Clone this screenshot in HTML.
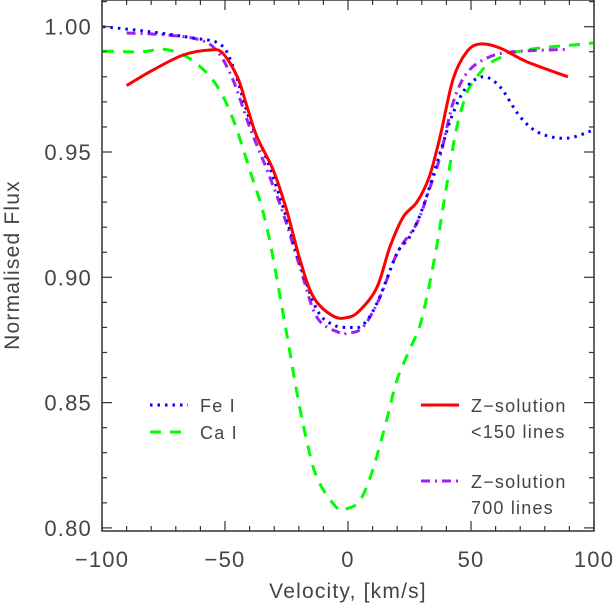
<!DOCTYPE html>
<html><head><meta charset="utf-8">
<style>
html,body{margin:0;padding:0;background:#fff;}
svg{display:block;font-family:"Liberation Sans",sans-serif;}
text{fill:#444;letter-spacing:1.2px;}
</style></head>
<body>
<svg id="chart" width="615" height="604" viewBox="0 0 615 604" xmlns="http://www.w3.org/2000/svg">
<g id="curves"></g>
<g id="axes"></g>
<g id="legend"></g>
</svg>
<script>
const redV=[-90,-79.3,-67,-56,-51,-45,-41,-37,-30.5,-25,-19.5,-14,-6,0,5,11.8,17,22.4,28,33,37.4,42.7,48.3,53.7,61.8,72.7,89.4];
const redF=[0.9765,0.9827,0.9887,0.9907,0.9895,0.980,0.968,0.956,0.943,0.927,0.907,0.892,0.8845,0.884,0.887,0.896,0.912,0.924,0.930,0.940,0.956,0.979,0.990,0.9931,0.9915,0.986,0.980];
const feV=[-99.6,-80.5,-63,-52,-46.7,-40,-33,-26.4,-19.5,-12.6,-6,0.8,6,11.8,20,25,30.5,37.4,42.7,48.3,55,61.8,70,78,89,99.6];
const feF=[1.000,0.998,0.9955,0.993,0.984,0.963,0.947,0.928,0.9055,0.887,0.881,0.880,0.881,0.8897,0.9097,0.916,0.928,0.9495,0.9655,0.976,0.980,0.976,0.964,0.9575,0.9555,0.9587];
const zpV=[-90,-73.6,-60,-53,-46.7,-40,-33,-26.4,-19.5,-12.6,-3.3,-0.4,6,13,20,28,33,37.4,42.7,48.3,56.5,67,90];
const zpF=[0.9975,0.9967,0.9947,0.990,0.9787,0.960,0.943,0.9256,0.904,0.884,0.8778,0.8777,0.880,0.892,0.9097,0.9216,0.935,0.948,0.9695,0.9815,0.9875,0.990,0.991];
const caV=[-99.6,-84.5,-75,-67,-60,-53,-46.7,-40,-33,-25.2,-21.5,-17.5,-12.6,-4.5,-0.4,4.9,10,15.7,19.9,25,29,32,36,40,44,48.3,52.4,57.7,67,78,91.5,99.6];
const caF=[0.9903,0.990,0.991,0.9887,0.984,0.976,0.963,0.943,0.920,0.879,0.858,0.838,0.820,0.808,0.8077,0.811,0.823,0.843,0.859,0.871,0.880,0.892,0.912,0.936,0.9587,0.9735,0.980,0.9855,0.9895,0.9915,0.9927,0.9935];
const xTicks=[-100,-50,0,50,100];
const xTickLabels=["\u2212100","\u221250","0","50","100"];
const yTicks=[0.80,0.85,0.90,0.95,1.00];
const yTickLabels=["0.80","0.85","0.90","0.95","1.00"];

const L=102,R=594,T=0,B=531;
const X=v=>348+(v)*2.46;
const Y=f=>26.7+(1-f)*2506;
const NS="http://www.w3.org/2000/svg";
function mk(tag,attrs,parent){const e=document.createElementNS(NS,tag);for(const k in attrs)e.setAttribute(k,attrs[k]);parent.appendChild(e);return e;}
function smooth(vs,fs){const p=vs.map((v,i)=>[X(v),Y(fs[i])]);let d="M"+p[0][0].toFixed(1)+","+p[0][1].toFixed(1);
 for(let i=0;i<p.length-1;i++){const p0=p[i-1]||p[i],p1=p[i],p2=p[i+1],p3=p[i+2]||p2;
  const c1=[p1[0]+(p2[0]-p0[0])/6,p1[1]+(p2[1]-p0[1])/6],c2=[p2[0]-(p3[0]-p1[0])/6,p2[1]-(p3[1]-p1[1])/6];
  d+=" C"+c1.map(n=>n.toFixed(1))+" "+c2.map(n=>n.toFixed(1))+" "+p2.map(n=>n.toFixed(1));}
 return d;}
const cg=document.getElementById('curves');
const series=[
 [caV,caF,'#00ff00','11,9','ca-i-curve'],
 [zpV,zpF,'#a020f0','9,5,2,5','z-solution-700-curve'],
 [feV,feF,'#0000ff','2.5,5','fe-i-curve'],
 [redV,redF,'#ff0000','','z-solution-150-curve']];
series.forEach(s=>{const p=mk('path',{d:smooth(s[0],s[1]),fill:'none',stroke:s[2],'stroke-width':3,'stroke-dasharray':s[3]||'none'},cg);
 
 });
const ag=document.getElementById('axes');
const fr=mk('rect',{x:L,y:T,width:R-L,height:B-T,fill:'none',stroke:'#333','stroke-width':1.5},ag);


for(let v=-100;v<=100;v+=10){const maj=v%50===0;const len=maj?10:5;
 mk('line',{x1:X(v),x2:X(v),y1:B,y2:B-len,stroke:'#333','stroke-width':1.2},ag);
 mk('line',{x1:X(v),x2:X(v),y1:T,y2:T+len,stroke:'#333','stroke-width':1.2},ag);}
for(let k=80;k<=101;k++){const f=k/100;const maj=k%5===0;const len=maj?10:5;
 mk('line',{x1:L,x2:L+len,y1:Y(f),y2:Y(f),stroke:'#333','stroke-width':1.2},ag);
 mk('line',{x1:R,x2:R-len,y1:Y(f),y2:Y(f),stroke:'#333','stroke-width':1.2},ag);}
xTicks.forEach((v,i)=>{const t=mk('text',{x:X(v),y:567,'font-size':22,'text-anchor':'middle'},ag);t.textContent=xTickLabels[i];
 
 });
yTicks.forEach((f,i)=>{const t=mk('text',{x:92,y:Y(f)+8,'font-size':22,'text-anchor':'end'},ag);t.textContent=yTickLabels[i];
 
 });
const xt=mk('text',{x:348,y:598,'font-size':21,'text-anchor':'middle'},ag);xt.textContent='Velocity, [km/s]';


const yt=mk('text',{x:0,y:0,'font-size':21,'text-anchor':'middle',transform:'translate(19,265) rotate(-90)'},ag);yt.textContent='Normalised Flux';


const lg=document.getElementById('legend');
const leg=[[150,405,'#0000ff','2.5,5',['Fe I'],'legend-fe-i',200],
 [150,432,'#00ff00','11,9',['Ca I'],'legend-ca-i',200],
 [421,405,'#ff0000','',['Z\u2212solution','<150 lines'],'legend-z-solution-150',471],
 [421,481,'#a020f0','9,5,2,5',['Z\u2212solution','700 lines'],'legend-z-solution-700',471]];
leg.forEach(e=>{const g=mk('g',{},lg);
 
 
 mk('line',{x1:e[0],x2:e[0]+38,y1:e[1],y2:e[1],stroke:e[2],'stroke-width':3,'stroke-dasharray':e[3]||'none'},g);
 e[4].forEach((s,j)=>{const t=mk('text',{x:e[6],y:e[1]+7+j*26,'font-size':18},g);t.textContent=s;});});
</script>
</body></html>
